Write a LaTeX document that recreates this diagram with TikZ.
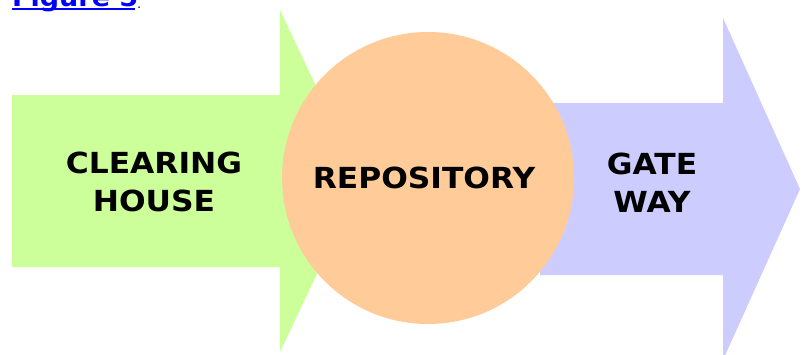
\documentclass[tikz,border=0pt]{standalone}
\usepackage{fontspec}
\newfontfamily\lblfont[FakeStretch=1.08]{DejaVu Sans}
\definecolor{grn}{HTML}{CCFF99}
\definecolor{org}{HTML}{FFCC99}
\definecolor{blu}{HTML}{CCCCFF}
\definecolor{lnk}{HTML}{0000FF}
\tikzset{
  lbl/.style={inner sep=0pt, align=center, anchor=base, font=\lblfont\bfseries\fontsize{29}{38}\selectfont, text=black},
}
\begin{document}
\begin{tikzpicture}[x=1pt,y=-1pt]
\useasboundingbox (0,0) rectangle (802,354);
\fill[white] (0,0) rectangle (802,354);
% green arrow
\fill[grn] (12,95) -- (280,95) -- (280,10) -- (361,181) -- (280,352) -- (280,267) -- (12,267) -- cycle;
% blue arrow
\fill[blu] (540,103) -- (723,103) -- (723,18) -- (800,189) -- (723,360) -- (723,275) -- (540,275) -- cycle;
% circle
\fill[org] (428,178) circle[radius=146];
% labels (base anchor = baseline of the last line)
\node[lbl] (ch) at (154,211) {CLEARING\\HOUSE};
\node[lbl] (rep) at (424,188) {REPOSITORY};
\node[lbl] (gw) at (652,212) {GATE\\WAY};
% cut-off link text at top
\node[inner sep=0pt, anchor=base west, text=lnk, font=\lblfont\bfseries\fontsize{25}{30}\selectfont] (fig) at (12,6) {Figure 5};
\fill[lnk] (12,7.5) rectangle (135,9.5);
\node[inner sep=0pt, anchor=base west, font=\lblfont\fontsize{12}{14}\selectfont] (dot) at (137,8) {.};
\end{tikzpicture}
\end{document}
